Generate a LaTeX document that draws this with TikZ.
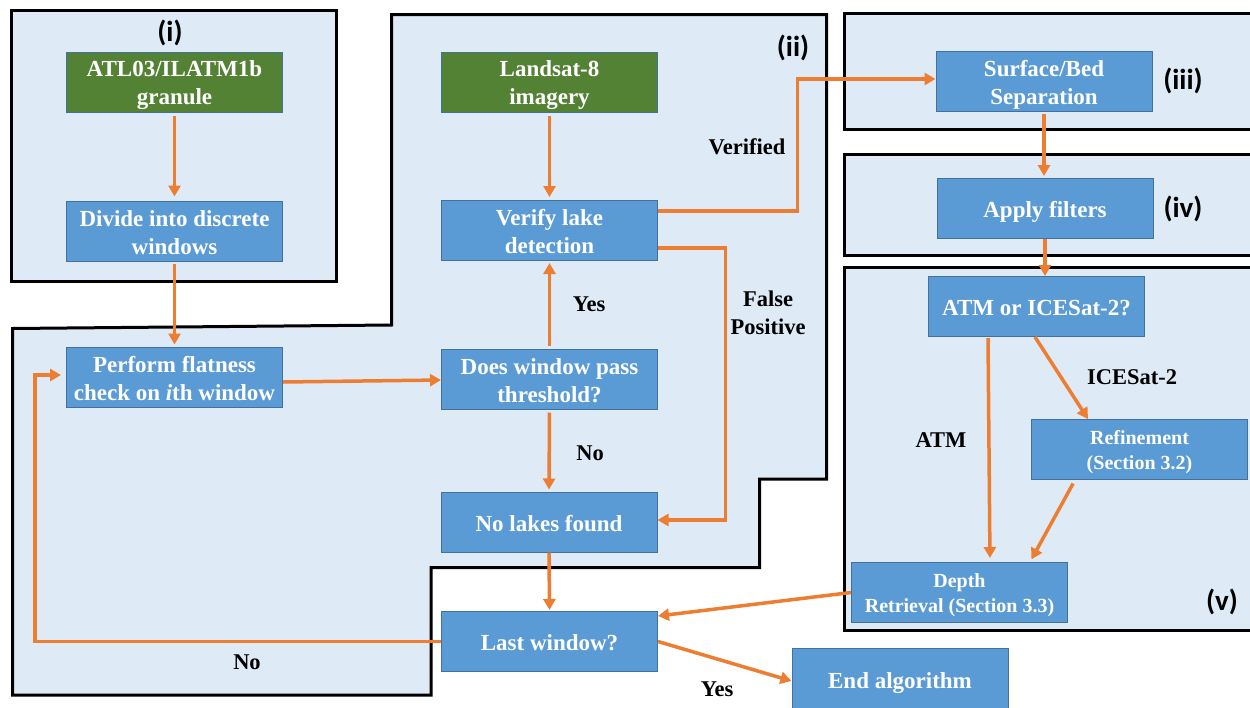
\documentclass[tikz,border=0pt]{standalone}
\usepackage{fontspec}
\setmainfont{Liberation Serif}
\newfontfamily\calfnt{Carlito}
\usetikzlibrary{arrows.meta,calc}
\definecolor{regfill}{HTML}{DEEBF7}
\definecolor{boxblue}{HTML}{5B9BD5}
\definecolor{boxedge}{HTML}{41719C}
\definecolor{boxgreen}{HTML}{548235}
\definecolor{arrorange}{HTML}{ED7D31}
\newcommand\topst{\rule{0pt}{23pt}}
\newcommand\botst{\rule[-5pt]{0pt}{5pt}}
\newcommand\topsm{\rule{0pt}{20pt}}
\newcommand\botsm{\rule[-5pt]{0pt}{5pt}}
\pgfdeclarelayer{bg}
\pgfsetlayers{bg,main}
\begin{document}
\begin{tikzpicture}[x=1pt,y=-1pt,
  region/.style={draw=black,line width=3pt,fill=regfill},
  blockbox/.style={draw=boxedge,line width=1pt,fill=boxblue,text=white,font=\bfseries\fontsize{23}{28}\selectfont,align=center,inner sep=0pt,minimum width=216pt,minimum height=60pt},
  greenbox/.style={blockbox,fill=boxgreen},
  smallbox/.style={blockbox,font=\bfseries\fontsize{20}{24.5}\selectfont},
  flow/.style={draw=arrorange,line width=3.5pt,-{Triangle[length=11pt,width=12pt]}},
  lbl/.style={font=\bfseries\fontsize{22.5}{28}\selectfont,align=center,inner sep=0pt},
  reglbl/.style={font=\calfnt\bfseries\fontsize{29}{30}\selectfont,inner sep=0pt}
]
\useasboundingbox (0,0) rectangle (1250,707);
\begin{pgfonlayer}{bg}
\fill[white] (0,0) rectangle (1250,707);
\draw[region] (11,10) rectangle (336.5,281);
\draw[region] (391.5,14.5) -- (826.5,14.5) -- (826.5,479) -- (759.5,479) -- (759.5,567.5) -- (431,567.5) -- (431,695) -- (12.5,695) -- (12.5,328.5) -- (391.5,325) -- cycle;
\draw[region] (844.5,13.5) rectangle (1262,129.5);
\draw[region] (844.5,154.5) rectangle (1262,255.5);
\draw[region] (844.5,267.5) rectangle (1262,630);
\end{pgfonlayer}

\node[greenbox] (atl) at (174.5,82) {\topst ATL03/ILATM1b\\granule\botst};
\node[blockbox] (divide) at (174.5,231) {\topst Divide into discrete\\windows\botst};
\node[greenbox] (landsat) at (549.5,82) {\topst Landsat-8\\imagery\botst};
\node[blockbox] (verify) at (549.5,230.5) {\topst Verify lake\\detection\botst};
\node[blockbox] (perform) at (174.5,377) {\topst Perform flatness\\check on \textit{i}th window\botst};
\node[blockbox] (does) at (549.5,379) {\topst Does window pass\\threshold?\botst};
\node[blockbox] (nolakes) at (549,522) {\topst No lakes found\botst};
\node[blockbox] (last) at (549.5,641.5) {\topst Last window?\botst};
\node[blockbox,minimum height=64pt] (endalg) at (900,680) {\topst End algorithm\botst};
\node[blockbox] (surface) at (1044,81) {\topst Surface/Bed\\Separation\botst};
\node[blockbox] (apply) at (1045,208.5) {\topst Apply filters\botst};
\node[blockbox] (atmq) at (1036.5,306.5) {\topst ATM or ICESat-2?\botst};
\node[smallbox] (refine) at (1139.5,449.5) {\topsm Refinement\\(Section 3.2)\botsm};
\node[smallbox] (depth) at (959.5,592.5) {\topsm Depth\\Retrieval (Section 3.3)\botsm};

\node[reglbl] (li) at (170,33) {(i)};
\node[reglbl] (lii) at (793,48) {(ii)};
\node[reglbl] (liii) at (1183,81) {(iii)};
\node[reglbl] (liv) at (1183,209) {(iv)};
\node[reglbl] (lv) at (1222,602) {(v)};

\node[lbl] (tverified) at (747,147) {Verified};
\node[lbl] (tyes1) at (589,304) {Yes};
\node[lbl] (tfalse) at (768,313) {False\\Positive};
\node[lbl] (tno1) at (590,453) {No};
\node[lbl] (tno2) at (247,662) {No};
\node[lbl] (tyes2) at (717,689) {Yes};
\node[lbl] (tatm) at (941,440) {ATM};
\node[lbl] (tice) at (1132,377) {ICESat-2};

\draw[flow,shorten <=3pt,shorten >=4pt] (atl.south) -- (divide.north);
\draw[flow,shorten <=2pt,shorten >=2pt] (divide.south) -- (perform.north);
\draw[flow] ([yshift=-5pt]perform.east) -- ([yshift=-1pt]does.west);
\draw[flow,shorten <=3pt,shorten >=2pt] (does.north) -- (verify.south);
\draw[flow,shorten <=3pt,shorten >=3pt] (landsat.south) -- (verify.north);
\draw[flow] ([yshift=19.5pt]verify.east) -- ++(139.5,0) |- ([yshift=2pt]surface.west);
\draw[flow] ([yshift=-17.5pt]verify.east) -- ++(67.5,0) |- ([yshift=2pt]nolakes.east);
\draw[flow,shorten <=3pt,shorten >=2pt] (does.south) -- (nolakes.north);
\draw[flow,shorten >=1pt] (nolakes.south) -- (last.north);
\draw[flow,shorten >=5pt] (last.west) -| ([xshift=-31pt,yshift=2pt]perform.west) -- ([yshift=2pt]perform.west);
\draw[flow] (last.east) -- ([yshift=-1pt]endalg.west);
\draw[flow] (depth.west) -- ([yshift=-5pt]last.north east);
\draw[flow,shorten <=2pt,shorten >=2pt] (surface.south) -- (surface.south |- apply.north);
\draw[flow] (apply.south) -- (apply.south |- atmq.north);
\draw[flow,shorten <=1pt,shorten >=4pt] ([xshift=-48.5pt]atmq.south) -- ([xshift=30.5pt]depth.north);
\draw[flow] ([xshift=-1.5pt]atmq.south) -- ([xshift=-51.5pt]refine.north);
\draw[flow,shorten <=4pt,shorten >=3pt] ([xshift=-64.5pt]refine.south) -- ([xshift=70.5pt]depth.north);
\end{tikzpicture}
\end{document}
